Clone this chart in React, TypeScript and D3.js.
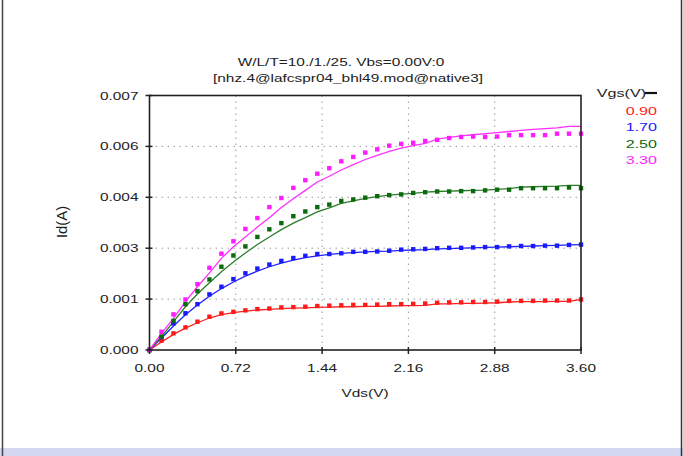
import React from "react";
import * as d3 from "d3";

const vds = [0, 0.1, 0.2, 0.3, 0.4, 0.5, 0.6, 0.7, 0.8, 0.9, 1.0, 1.1, 1.2, 1.3, 1.4, 1.5, 1.6, 1.7, 1.8, 1.9, 2.0, 2.1, 2.2, 2.3, 2.4, 2.5, 2.6, 2.7, 2.8, 2.9, 3.0, 3.1, 3.2, 3.3, 3.4, 3.5, 3.6];

const vgsLabels = ["0.90", "1.70", "2.50", "3.30"];

const measured090 = [0, 0.000256, 0.000458, 0.000622, 0.000778, 0.000915, 0.001006, 0.00105, 0.00109, 0.001125, 0.00114, 0.00117, 0.00118, 0.00119, 0.00121, 0.00122, 0.00123, 0.00124, 0.00124, 0.00125, 0.00126, 0.00126, 0.00127, 0.00128, 0.0013, 0.00131, 0.00131, 0.00132, 0.00132, 0.00133, 0.00135, 0.00135, 0.00135, 0.00136, 0.00136, 0.00136, 0.00139];
const measured170 = [0, 0.00035, 0.00073, 0.00101, 0.00126, 0.00153, 0.00174, 0.00195, 0.00211, 0.00224, 0.00235, 0.00245, 0.00253, 0.00259, 0.00264, 0.00264, 0.00266, 0.0027, 0.0027, 0.00271, 0.00273, 0.00276, 0.00277, 0.00278, 0.0028, 0.00281, 0.00281, 0.00282, 0.00283, 0.00283, 0.00285, 0.00286, 0.00286, 0.00287, 0.00287, 0.00289, 0.0029];
const measured250 = [0, 0.000365, 0.0008, 0.00126, 0.00162, 0.00194, 0.00229, 0.0026, 0.00285, 0.00311, 0.00332, 0.00349, 0.00368, 0.00381, 0.00393, 0.004, 0.0041, 0.00414, 0.00419, 0.00423, 0.00426, 0.00428, 0.00432, 0.00434, 0.00436, 0.00436, 0.00437, 0.00437, 0.00439, 0.00441, 0.00441, 0.00445, 0.00445, 0.00445, 0.00445, 0.00447, 0.00445];
const measured330 = [0, 0.000502, 0.00098, 0.00139, 0.00181, 0.00226, 0.00265, 0.00299, 0.00333, 0.00363, 0.00393, 0.00418, 0.00446, 0.00467, 0.00485, 0.005, 0.00519, 0.00531, 0.00543, 0.00552, 0.00562, 0.00567, 0.0057, 0.00575, 0.00578, 0.00583, 0.00586, 0.00587, 0.00586, 0.00587, 0.00591, 0.00591, 0.00591, 0.00591, 0.00595, 0.00595, 0.00595];

const model090 = [0, 0.00022, 0.00043, 0.0006, 0.00075, 0.00088, 0.00097, 0.00103, 0.00107, 0.0011, 0.00112, 0.00114, 0.00115, 0.00116, 0.00117, 0.00118, 0.00119, 0.00119, 0.0012, 0.0012, 0.00121, 0.00122, 0.00122, 0.00123, 0.00127, 0.00127, 0.00128, 0.00128, 0.00129, 0.0013, 0.00132, 0.00133, 0.00133, 0.00133, 0.00134, 0.00134, 0.00139];
const model170 = [0, 0.00033, 0.00066, 0.00097, 0.00124, 0.00148, 0.00169, 0.00187, 0.00203, 0.00217, 0.00229, 0.00239, 0.00247, 0.00254, 0.00259, 0.00263, 0.00266, 0.00268, 0.0027, 0.00271, 0.00272, 0.00274, 0.00275, 0.00276, 0.00278, 0.00279, 0.0028, 0.00281, 0.00282, 0.00283, 0.00284, 0.00285, 0.00286, 0.00287, 0.00288, 0.00289, 0.0029];
const model250 = [0, 0.00037, 0.00078, 0.00119, 0.00154, 0.00185, 0.00215, 0.00242, 0.00267, 0.0029, 0.00311, 0.00331, 0.00349, 0.00364, 0.0038, 0.00391, 0.00403, 0.0041, 0.00417, 0.00422, 0.00426, 0.00429, 0.00431, 0.00434, 0.00436, 0.00437, 0.00438, 0.00439, 0.0044, 0.00442, 0.00444, 0.00448, 0.00449, 0.0045, 0.00451, 0.00453, 0.00453];
const model330 = [0, 0.000458, 0.00087, 0.00133, 0.00174, 0.00212, 0.00252, 0.00284, 0.00311, 0.00338, 0.00364, 0.00392, 0.00416, 0.00439, 0.00462, 0.00478, 0.00495, 0.0051, 0.00524, 0.00535, 0.00546, 0.00555, 0.00562, 0.00568, 0.0058, 0.00585, 0.00589, 0.00592, 0.00595, 0.00598, 0.00601, 0.00604, 0.00607, 0.00609, 0.00611, 0.00615, 0.00615];

const xTicks = [0, 0.72, 1.44, 2.16, 2.88, 3.6];
const yTicks = [0, 0.0014, 0.0028, 0.0042, 0.0056, 0.007];

const titleLine1 = "W/L/T=10./1./25.  Vbs=0.00V:0";
const titleLine2 = "[nhz.4@lafcspr04_bhl49.mod@native3]";

const seriesColors = ["#ff1a1a", "#1a1aff", "#0b6a0b", "#ff1cff"];
const lineColors = ["#ff2020", "#2020ff", "#2a7d2a", "#ff30ff"];
const measuredAll = [measured090, measured170, measured250, measured330];
const modelAll = [model090, model170, model250, model330];

const FONT = "'Liberation Sans', Arial, Helvetica, sans-serif";
const SX = 1.4;

function SText({ x, y, anchor = "start", size = 11, fill = "#222", children }: any) {
  return (
    <text
      transform={`translate(${x},${y}) scale(${SX},1)`}
      textAnchor={anchor}
      fontFamily={FONT}
      fontSize={size}
      fill={fill}
    >
      {children}
    </text>
  );
}

export default function App() {
  const W = 683, H = 456;
  const left = 149.5, right = 581, top = 95.5, bottom = 350;
  const x = d3.scaleLinear().domain([0, 3.6]).range([left, right]);
  const y = d3.scaleLinear().domain([0, 0.007]).range([bottom, top]);
  const line = d3.line<number>().x((_, i) => x(vds[i])).y((d) => y(d));

  return (
    <svg width={W} height={H} style={{ position: "absolute", left: 0, top: 0, background: "#fff" }}>
      <rect x={0} y={0} width={W} height={H} fill="#fff" />
      <rect x={0} y={448} width={W} height={8} fill="#d3d7ef" />
      <line x1={2.5} x2={2.5} y1={0} y2={H} stroke="#444" strokeWidth={1.5} />
      <line x1={681.5} x2={681.5} y1={0} y2={H} stroke="#333" strokeWidth={1.5} />

      {/* grid */}
      {xTicks.slice(1, -1).map((t) => (
        <line key={"gx" + t} x1={x(t)} x2={x(t)} y1={top} y2={bottom} stroke="#999" strokeWidth={1} strokeDasharray="1.5,4.5" />
      ))}
      {yTicks.slice(1, -1).map((t) => (
        <line key={"gy" + t} x1={left} x2={right} y1={y(t)} y2={y(t)} stroke="#999" strokeWidth={1} strokeDasharray="1.5,4.5" />
      ))}

      {/* model lines */}
      {modelAll.map((s, k) => (
        <path key={"m" + k} d={line(s) || ""} fill="none" stroke={lineColors[k]} strokeWidth={1.3} />
      ))}

      {/* measured points */}
      {measuredAll.map((s, k) => (
        <g key={"p" + k} fill={seriesColors[k]}>
          {s.map((v, i) => (
            <rect key={i} x={x(vds[i]) - 2.2} y={y(v) - 2.2} width={4.4} height={4.4} />
          ))}
        </g>
      ))}

      {/* frame */}
      <rect x={left} y={top} width={right - left} height={bottom - top} fill="none" stroke="#222" strokeWidth={1.6} />

      {/* ticks */}
      {yTicks.map((t) => (
        <g key={"yt" + t}>
          <line x1={left - 4} x2={left + 3} y1={y(t)} y2={y(t)} stroke="#222" strokeWidth={1.5} />
          <SText x={left - 11} y={y(t) + 4} anchor="end">{d3.format(".3f")(t)}</SText>
        </g>
      ))}
      {xTicks.map((t) => (
        <g key={"xt" + t}>
          <line x1={x(t)} x2={x(t)} y1={bottom - 3} y2={bottom + 4} stroke="#222" strokeWidth={1.5} />
          <SText x={x(t)} y={371.5} anchor="middle">{d3.format(".2f")(t)}</SText>
        </g>
      ))}

      {/* axis titles */}
      <SText x={365} y={397} anchor="middle">Vds(V)</SText>
      <text
        transform={`translate(67,222) rotate(-90) scale(1.35,1.3)`}
        textAnchor="middle"
        fontFamily={FONT}
        fontSize={11}
        fill="#222"
      >
        Id(A)
      </text>

      {/* title */}
      <SText x={341} y={66} anchor="middle">{titleLine1}</SText>
      <SText x={348} y={82} anchor="middle">{titleLine2}</SText>

      {/* legend */}
      <SText x={646} y={96.5} anchor="end" size={11.5}>Vgs(V)</SText>
      <line x1={645} x2={657} y1={93} y2={93} stroke="#111" strokeWidth={2.2} />
      {vgsLabels.map((l, k) => (
        <SText key={l} x={657} y={114.5 + k * 16.5} anchor="end" size={11.5} fill={seriesColors[k]}>{l}</SText>
      ))}
    </svg>
  );
}
